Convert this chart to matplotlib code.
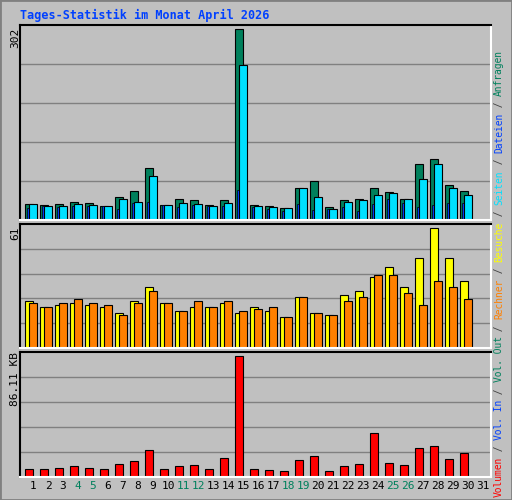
import matplotlib
matplotlib.use("Agg")
import matplotlib.pyplot as plt
from matplotlib.patches import Rectangle
import numpy as np

days = list(range(1, 32))
weekend = [4, 5, 11, 12, 18, 19, 25, 26]
anfragen = [25,24,25,29,27,22,37,46,82,24,34,31,24,31,302,24,22,19,50,61,21,31,34,50,45,34,88,96,56,46]
seiten   = [25,22,22,25,24,22,34,29,70,24,27,25,22,27,245,22,21,19,50,37,18,29,32,40,43,34,65,88,50,40]
dateien  = [19,22,21,22,22,22,18,27,29,24,21,24,22,22,48,21,18,15,26,16,18,21,15,26,34,27,21,24,27,27]
besuche  = [24,21,22,23,22,21,18,24,31,23,19,21,21,23,18,21,19,16,26,18,17,27,29,36,41,31,46,61,46,34]
rechner  = [23,21,23,25,23,22,17,23,29,23,19,24,21,24,19,20,21,16,26,18,17,24,26,37,37,28,22,34,31,25]
volumen  = [6.0,6.0,6.7,7.5,6.7,6.0,8.9,11.1,19.0,6.0,7.5,8.2,6.0,13.2,86.11,6.0,5.3,4.6,11.8,14.7,4.6,7.5,8.9,31.3,10.3,8.2,20.4,21.9,12.5,16.8]

BG = "#c0c0c0"
GREEN = "#00805c"; CYAN = "#00e0ff"; BLUE = "#0040ff"
YEL = "#ffff00"; ORA = "#ff8000"; RED = "#ff0000"
W, H = 512, 500
fig = plt.figure(figsize=(W/100, H/100), dpi=100, facecolor=BG)
fig.patches.append(Rectangle((0, 0), 1, 1, transform=fig.transFigure, fill=False,
                             edgecolor="#808080", lw=2))
mono = "DejaVu Sans Mono"

def mkax(y0, y1):
    ax = fig.add_axes([20/W, 1-y1/H, 471/W, (y1-y0)/H])
    ax.set_facecolor(BG)
    ax.set_xlim(0.133, 31.53)
    for s in ["left", "top"]:
        ax.spines[s].set_color("black")
    for s in ["right", "bottom"]:
        ax.spines[s].set_color("white")
    for sp in ax.spines.values():
        sp.set_linewidth(1.5)
    ax.set_xticks([]); ax.set_yticks([])
    return ax

def grid(ax, top):
    for k in range(1, 5):
        ax.axhline(top*k/5, color="#808080", lw=1, zorder=0)

x = np.array(days[:30])
ekw = dict(edgecolor="black", linewidth=0.8, align="edge")

ax1 = mkax(25, 220)
top1 = 302*586/573
ax1.set_ylim(0, top1); grid(ax1, top1)
ax1.bar(x-0.51, anfragen, 0.49, color=GREEN, **ekw)
ax1.bar(x-0.38, dateien, 0.14, color=BLUE, edgecolor="black", linewidth=0.5, align="edge")
ax1.bar(x-0.24, seiten, 0.49, color=CYAN, **ekw)

ax2 = mkax(224, 348)
top2 = 61*372/360
ax2.set_ylim(0, top2); grid(ax2, top2)
ax2.bar(x-0.51, besuche, 0.49, color=YEL, **ekw)
ax2.bar(x-0.24, rechner, 0.49, color=ORA, **ekw)

ax3 = mkax(352, 477)
top3 = 86.11*370/358
ax3.set_ylim(0, top3); grid(ax3, top3)
ax3.bar(x-0.51, volumen, 0.49, color=RED, **ekw)

fig.text(20/W, 1-15/H, "Tages-Statistik im Monat April 2026", color=BLUE,
         family=mono, weight="bold", fontsize=8.5, va="center", ha="left")
fig.text(15/W, 1-28/H, "302", rotation=90, family=mono, fontsize=8, ha="center", va="top")
fig.text(15/W, 1-226/H, "61", rotation=90, family=mono, fontsize=8, ha="center", va="top")
fig.text(15/W, 1-352/H, "86.11 KB", rotation=90, family=mono, fontsize=8, ha="center", va="top")

for d in days:
    ax3.text(d + 0.0, -0.035, str(d), transform=ax3.get_xaxis_transform(),
             ha="center", va="top", family=mono, fontsize=8,
             color=GREEN if d in weekend else "black")

parts = [("Volumen", RED), (" / ", "#404040"), ("Vol. In", BLUE), (" / ", "#404040"),
         ("Vol. Out", GREEN), (" / ", "#404040"), ("Rechner", ORA), (" / ", "#404040"),
         ("Besuche", YEL), (" / ", "#404040"), ("Seiten", CYAN), (" / ", "#404040"),
         ("Dateien", BLUE), (" / ", "#404040"), ("Anfragen", GREEN)]
cw = 5.73
ypx = 497
for t, c in parts:
    fig.text(499/W, 1-ypx/H, t, rotation=90, color=c, family=mono, fontsize=6.9,
             ha="center", va="bottom")
    ypx -= len(t)*cw

fig.savefig("out.png", dpi=100, facecolor=BG)
